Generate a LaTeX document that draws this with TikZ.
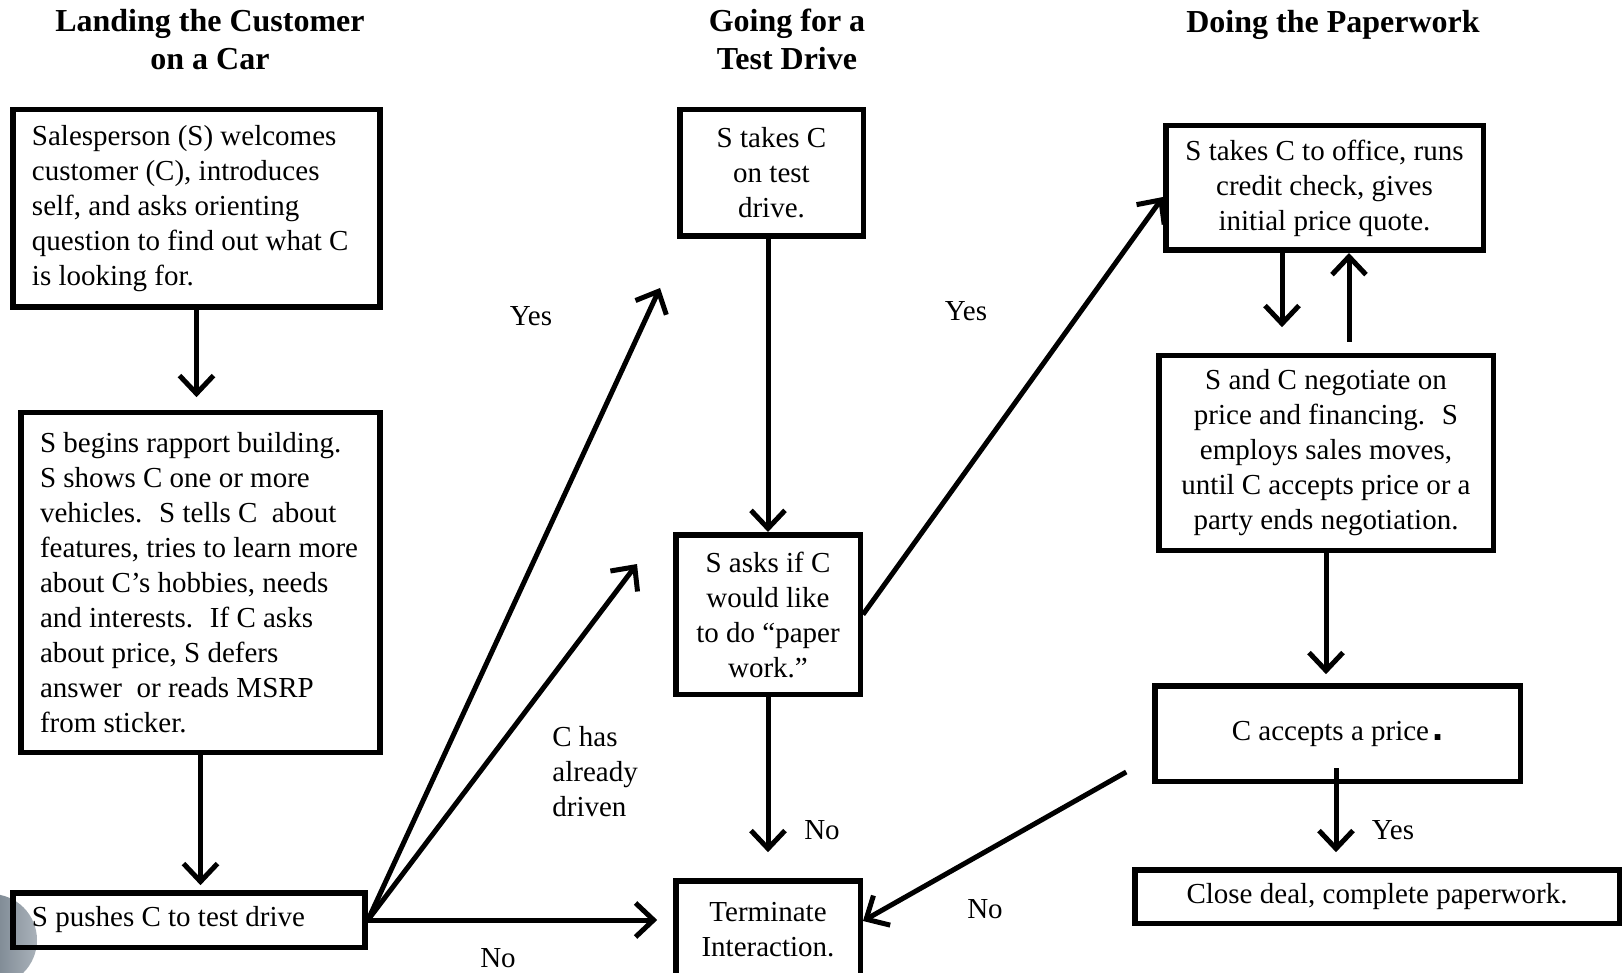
\documentclass[tikz,border=0pt]{standalone}
\usepackage{fontspec}
\setmainfont{Liberation Serif}
\newfontfamily\dotfont{Liberation Sans}
\usetikzlibrary{arrows.meta,calc}
\definecolor{balldark}{RGB}{70,86,100}
\definecolor{balllight}{RGB}{170,178,186}
\newcommand{\oneline}[1]{\mbox{#1}}
\begin{document}
\begin{tikzpicture}[x=0.5pt,y=-0.5pt,
  box/.style={draw=black, line width=2.75pt, rectangle, inner ysep=2pt,
              font=\fontsize{14.5pt}{17.5pt}\selectfont},
  cbox/.style={box, align=center},
  lbox/.style={box, align=flush left},
  head/.style={font=\fontsize{16pt}{19pt}\selectfont\bfseries, align=center, inner sep=0pt},
  lab/.style={font=\fontsize{14.5pt}{17.5pt}\selectfont, inner sep=0pt},
  arr/.style={line width=2.5pt, -{Straight Barb[length=9pt,width=17pt]}},
]
\useasboundingbox (0,0) rectangle (1624,973);
\clip (0,0) rectangle (1624,973);
\fill[white] (0,0) rectangle (1624,973);

% decorative ball
\shade[left color=balldark, right color=balllight] (-9,940) circle[radius=23pt];

% headings
\node[head] (h1) at (210,40) {Landing the Customer\\on a Car};
\node[head] (h2) at (787,39) {Going for a\\Test Drive};
\node[head] (h3) at (1333,24.5) {Doing the Paperwork};

% boxes
\node[lbox, text width=164.5pt, inner xsep=9.6pt, minimum height=98.75pt] (b1) at (196.5,208.5)
  {\oneline{Salesperson (S) welcomes}\\\oneline{customer (C), introduces}\\\oneline{self, and asks orienting}\\\oneline{question to find out what C}\\\oneline{is looking for.}};
\node[lbox, text width=160.5pt, inner xsep=9.6pt, minimum height=169.75pt] (b2) at (200.5,582.5)
  {\oneline{S begins rapport building.}\\\oneline{S shows C one or more}\\\oneline{vehicles.~ S tells C~ about}\\\oneline{features, tries to learn more}\\\oneline{about C's hobbies, needs}\\\oneline{and interests.~ If C asks}\\\oneline{about price, S defers}\\\oneline{answer~ or reads MSRP}\\\oneline{from sticker.}};
\node[lbox, text width=157pt, inner xsep=9.6pt, minimum height=27.25pt] (b3) at (189,920)
  {\oneline{S pushes C to test drive}};
\node[cbox, minimum width=91.75pt, minimum height=63.25pt] (b4) at (771.5,173)
  {S takes C\\on test\\drive.};
\node[cbox, minimum width=92.25pt, minimum height=79.75pt] (b5) at (768,614.5)
  {S asks if C\\would like\\to do ``paper\\work.''};
\node[cbox, minimum width=92.25pt, minimum height=49.25pt] (b6) at (768,930)
  {Terminate\\Interaction.};
\node[cbox, minimum width=158.75pt, minimum height=62.25pt] (b7) at (1324.5,188)
  {S takes C to office, runs\\credit check, gives\\initial price quote.};
\node[cbox, minimum width=167.25pt, minimum height=97.25pt] (b8) at (1326,453)
  {S and C negotiate on\\price and financing.~ S\\employs sales moves,\\until C accepts price or a\\party ends negotiation.};
\node[cbox, minimum width=182.75pt, minimum height=47.75pt] (b9) at (1337.5,733.5)
  {C accepts a price\kern1.5pt{\dotfont\bfseries\fontsize{20pt}{20pt}\selectfont .}};
\node[cbox, minimum width=242.25pt, minimum height=26.75pt] (b10) at (1377,896.5)
  {Close deal, complete paperwork.};

% labels
\node[lab] (yes1) at (531,316) {Yes};
\node[lab] (yes2) at (966,311) {Yes};
\node[lab, align=left, anchor=west] (drv) at (552,772) {C has\\already\\driven};
\node[lab] (no1) at (498,958) {No};
\node[lab] (no2) at (822,830) {No};
\node[lab] (yes3) at (1393,830) {Yes};
\node[lab] (no3) at (985,909) {No};

% free ends
\coordinate (t1) at (660,288);
\coordinate (t2) at (637,564);
\coordinate (w7) at ($(b7.west)+(0,9)$);
\coordinate (d1) at ($(b7.south)+(-42.5,0)$);
\coordinate (u1) at ($(b7.south)+(24.5,0)$);
\coordinate (y1) at ($(b9.south)+(-1.5,-16)$);
\coordinate (n1) at ($(b9.west)+(-25.75,38.5)$);
\coordinate (n2) at ($(b6.east)+(0,-9)$);

% connectors
\draw[arr, shorten >=6.4pt] (b1.south) -- (b1.south |- b2.north);
\draw[arr, shorten >=2.4pt] (b2.south) -- (b2.south |- b3.north);
\draw[arr] (b3.east) -- (t1);
\draw[arr] (b3.east) -- (t2);
\draw[arr, shorten >=7.9pt] (b3.east) -- (b3.east -| b6.west);
\draw[arr] (b5.north |- b4.south) -- (b5.north);
\draw[arr, shorten >=12.9pt] (b5.south) -- (b6.north);
\draw[arr] (b5.east) -- (w7);
\draw[arr, shorten >=12.9pt] (d1) -- (d1 |- b8.north);
\draw[arr, shorten <=5.6pt] (u1 |- b8.north) -- (u1);
\draw[arr, shorten >=4.4pt] (b8.south) -- (b8.south |- b9.north);
\draw[arr, shorten >=7.4pt] (y1) -- (y1 |- b10.north);
\draw[arr] (n1) -- (n2);
\end{tikzpicture}
\end{document}
